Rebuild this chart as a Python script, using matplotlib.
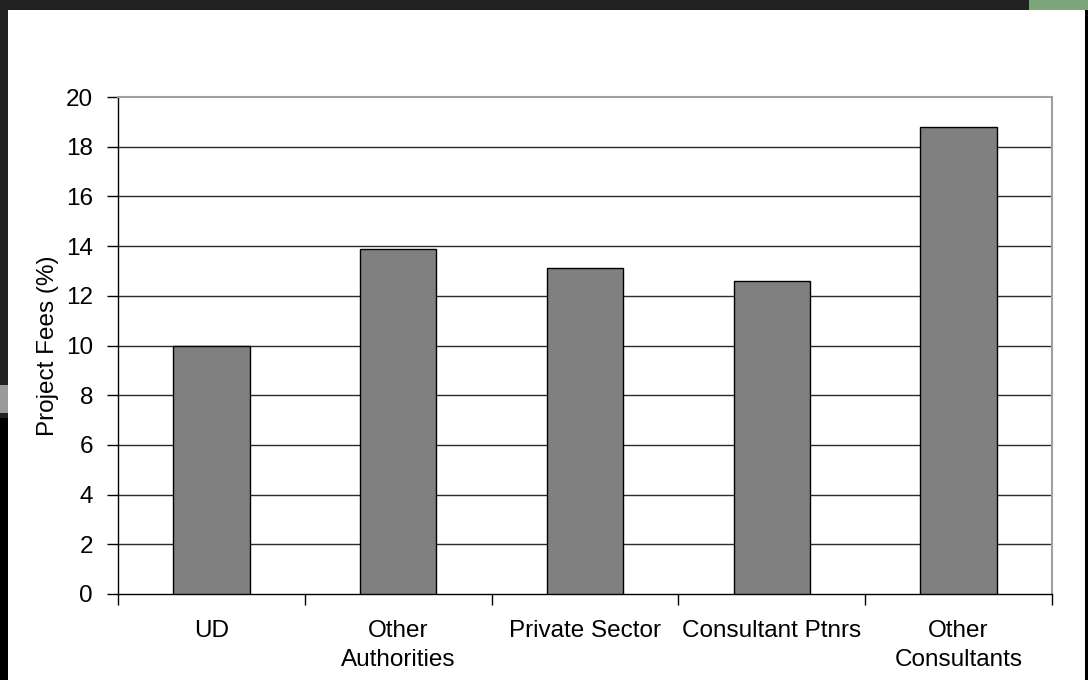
import matplotlib
matplotlib.use("Agg")
import matplotlib.pyplot as plt
from matplotlib.patches import Rectangle
import numpy as np

categories = ["UD", "Other\nAuthorities", "Private Sector", "Consultant Ptnrs", "Other\nConsultants"]
fees = [10.0, 13.9, 13.1, 12.6, 18.8]
y_ticks = [0, 2, 4, 6, 8, 10, 12, 14, 16, 18, 20]

plt.rcParams["font.family"] = ["Liberation Sans", "DejaVu Sans"]
W, H = 1088, 680
fig = plt.figure(figsize=(W / 100, H / 100), dpi=100)
fig.patch.set_facecolor("#222222")

# white slide area with a dark frame
frame_parts = [
    ((0, 0), 8, H - 418, "black"),
    ((8, 0), 1085 - 8, H - 10, "white"),
    ((1085, 0), 3, H - 10, "black"),
    ((1029, H - 10), W - 1029, 10, "#7aa67a"),
    ((0, H - 413), 8, 28, "#9a9a9a"),
]
for (px, py), pw, ph, col in frame_parts:
    fig.patches.append(Rectangle((px / W, py / H), pw / W, ph / H,
                                 transform=fig.transFigure, facecolor=col,
                                 edgecolor="none", zorder=-5))

ax = fig.add_axes([118 / W, (H - 594) / H, (1052 - 118) / W, (594 - 97) / H])
ax.set_zorder(2)
ax.set_facecolor("white")

x = np.arange(len(categories))
ax.bar(x, fees, width=0.41, color="#808080", edgecolor="black",
       linewidth=1.0, zorder=3)

ax.set_xlim(-0.5, len(categories) - 0.5)
ax.set_ylim(0, 20)
ax.set_yticks(y_ticks)
for v in y_ticks[1:-1]:
    ax.axhline(v, color="#2a2a2a", linewidth=1.0, zorder=1)

ax.set_xticks(x)
ax.set_xticklabels(categories, fontsize=17.5, linespacing=1.38)
ax.tick_params(axis="x", which="major", length=0, pad=19)
ax.set_xticks(np.arange(-0.5, len(categories)), minor=True)
ax.tick_params(axis="x", which="minor", length=8, width=1, color="black",
               direction="out")
ax.tick_params(axis="y", length=8, width=1, color="black", direction="out",
               pad=10, labelsize=17.5)

ax.set_ylabel("Project Fees (%)", fontsize=17.5, labelpad=5)

for side in ("top", "right"):
    ax.spines[side].set_color("#a0a0a0")
    ax.spines[side].set_linewidth(1.5)
for side in ("left", "bottom"):
    ax.spines[side].set_color("black")
    ax.spines[side].set_linewidth(1.0)

fig.savefig("out.png", dpi=100, facecolor=fig.get_facecolor())
